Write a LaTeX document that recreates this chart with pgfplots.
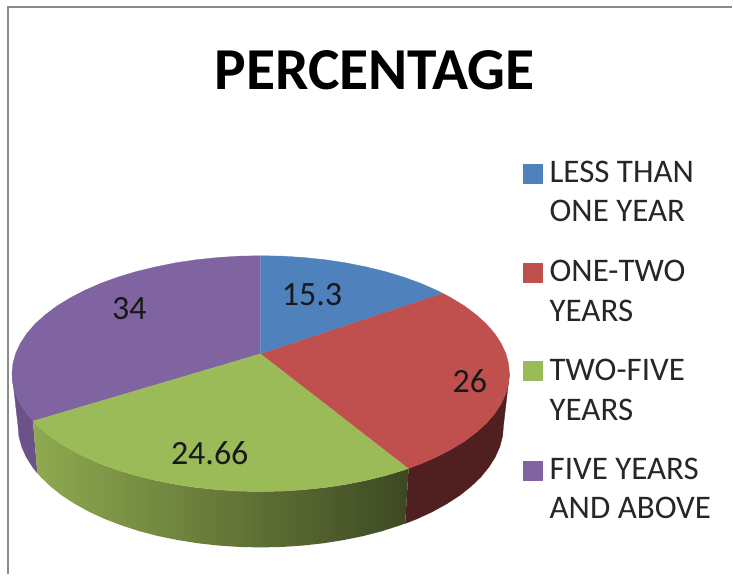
\documentclass[border=0pt]{standalone}
\usepackage{fontspec}
\setmainfont{Carlito}
\usepackage{pgfplots}
\pgfplotsset{compat=1.18}
\definecolor{cblue}{HTML}{4F81BD}
\definecolor{cred}{HTML}{C0504D}
\definecolor{cgreen}{HTML}{9BBB59}
\definecolor{cpurple}{HTML}{8064A2}
\definecolor{sred}{HTML}{4F201F}
\definecolor{spurple}{HTML}{6B5288}
\definecolor{sgreenL}{HTML}{8FAA50}
\definecolor{sgreenM}{HTML}{5E7035}
\definecolor{sgreenR}{HTML}{3D4822}
\definecolor{frame}{HTML}{8A8A8A}
\begin{document}
\begin{tikzpicture}
\begin{axis}[
  width=733pt, height=575pt, scale only axis,
  xmin=0, xmax=733, ymin=0, ymax=575, y dir=reverse,
  hide axis, clip=false,
  legend style={draw=none}
]
% keep the whole canvas in the bounding box
\path (axis cs:0,0) -- (axis cs:733,575);
% frame
\addplot[frame, line width=1.5pt] coordinates {(8,575)(8,7)(733,7)};
% sides
\addplot[fill=spurple, draw=spurple, line width=.3pt] coordinates {
(33,421.4)(27,414.4)(20.5,404.5)(15.8,394.5)(13,384.3)(12,374)
(18,426)(18.9,436.6)(21.7,447.2)(26.3,457.6)(32.7,467.7)(37.4,473.7)};
\addplot[fill=sred, draw=sred, line width=.3pt] coordinates {
(409,468.9)(421.1,464.4)(437.1,457.4)(451.7,449.8)(465,441.7)(476.6,433)(486.7,423.9)(495,414.4)(501.5,404.5)(506.2,394.5)(509,384.3)(510,374)
(504,426)(503.1,436.6)(500.3,447.2)(495.7,457.6)(489.3,467.7)(481.2,477.6)(471.4,487)(460.1,496)(447.1,504.4)(432.8,512.3)(417.2,519.5)(405.6,524)};
\addplot[draw=none, shade, left color=sgreenL, middle color=sgreenM, right color=sgreenR] coordinates {
(33,421.4)(35.3,423.9)(45.4,433)(57,441.7)(70.3,449.8)(84.9,457.4)(100.9,464.4)(118.2,470.7)(136.5,476.2)(155.8,480.9)(175.8,484.9)(196.6,488)(217.8,490.2)(239.3,491.6)(261,492)(282.7,491.6)(304.2,490.2)(325.4,488)(346.2,484.9)(366.2,480.9)(385.5,476.2)(403.8,470.7)(409,468.9)
(405.6,524)(400.4,525.9)(382.5,531.7)(363.7,536.6)(344.1,540.6)(323.9,543.8)(303.2,546.1)(282.2,547.5)(261,548)(239.8,547.5)(218.8,546.1)(198.1,543.8)(177.9,540.6)(158.3,536.6)(139.5,531.7)(121.6,525.9)(104.8,519.5)(89.2,512.3)(74.9,504.4)(61.9,496)(50.6,487)(40.8,477.6)(37.4,473.7)};
% top face
\addplot[fill=cpurple, draw=cpurple, line width=.3pt] coordinates {
(261,354)(33,421.4)(27,414.4)(20.5,404.5)(15.8,394.5)(13,384.3)(12,374)(13,363.7)(15.8,353.5)(20.5,343.5)(27,333.6)(35.3,324.1)(45.4,315)(57,306.3)(70.3,298.2)(84.9,290.6)(100.9,283.6)(118.2,277.3)(136.5,271.8)(155.8,267.1)(175.8,263.1)(196.6,260)(217.8,257.8)(239.3,256.4)(261,256)};
\addplot[fill=cgreen, draw=cgreen, line width=.3pt] coordinates {
(261,354)(409,468.9)(403.8,470.7)(385.5,476.2)(366.2,480.9)(346.2,484.9)(325.4,488)(304.2,490.2)(282.7,491.6)(261,492)(239.3,491.6)(217.8,490.2)(196.6,488)(175.8,484.9)(155.8,480.9)(136.5,476.2)(118.2,470.7)(100.9,464.4)(84.9,457.4)(70.3,449.8)(57,441.7)(45.4,433)(35.3,423.9)(33,421.4)};
\addplot[fill=cred, draw=cred, line width=.3pt] coordinates {
(261,354)(443,293.5)(451.7,298.2)(465,306.3)(476.6,315)(486.7,324.1)(495,333.6)(501.5,343.5)(506.2,353.5)(509,363.7)(510,374)(509,384.3)(506.2,394.5)(501.5,404.5)(495,414.4)(486.7,423.9)(476.6,433)(465,441.7)(451.7,449.8)(437.1,457.4)(421.1,464.4)(409,468.9)};
\addplot[fill=cblue, draw=cblue, line width=.3pt] coordinates {
(261,354)(261,256)(282.7,256.4)(304.2,257.8)(325.4,260)(346.2,263.1)(366.2,267.1)(385.5,271.8)(403.8,277.3)(421.1,283.6)(437.1,290.6)(443,293.5)};
% legend keys
\addplot[only marks, mark=square*, mark size=9.5pt, cblue, mark options={draw=none}] coordinates {(533,173.5)};
\addplot[only marks, mark=square*, mark size=9.5pt, cred, mark options={draw=none}] coordinates {(533,272.5)};
\addplot[only marks, mark=square*, mark size=9.5pt, cgreen, mark options={draw=none}] coordinates {(533,371.5)};
\addplot[only marks, mark=square*, mark size=9.5pt, cpurple, mark options={draw=none}] coordinates {(533,471)};
% title
\node[anchor=base, inner sep=0pt, font=\fontsize{59.5}{61}\selectfont\bfseries] at (axis cs:375,90) {PERCENTAGE};
% data labels
\begin{scope}[every node/.style={anchor=base west, inner sep=0pt, font=\fontsize{34}{36}\selectfont, text=black!90}]
\node at (axis cs:282,306) {15.3};
\node at (axis cs:453,393) {26};
\node at (axis cs:171,465) {24.66};
\node at (axis cs:112,320) {34};
\end{scope}
% legend text
\begin{scope}[every node/.style={anchor=base west, inner sep=0pt, font=\fontsize{33}{35}\selectfont, text=black!85}]
\node at (axis cs:550,183) {LESS THAN};
\node at (axis cs:550,222) {ONE YEAR};
\node at (axis cs:550,282) {ONE-TWO};
\node at (axis cs:550,322) {YEARS};
\node at (axis cs:550,381) {TWO-FIVE};
\node at (axis cs:550,421) {YEARS};
\node at (axis cs:550,480) {FIVE YEARS};
\node at (axis cs:550,519) {AND ABOVE};
\end{scope}
\end{axis}
\end{tikzpicture}
\end{document}
